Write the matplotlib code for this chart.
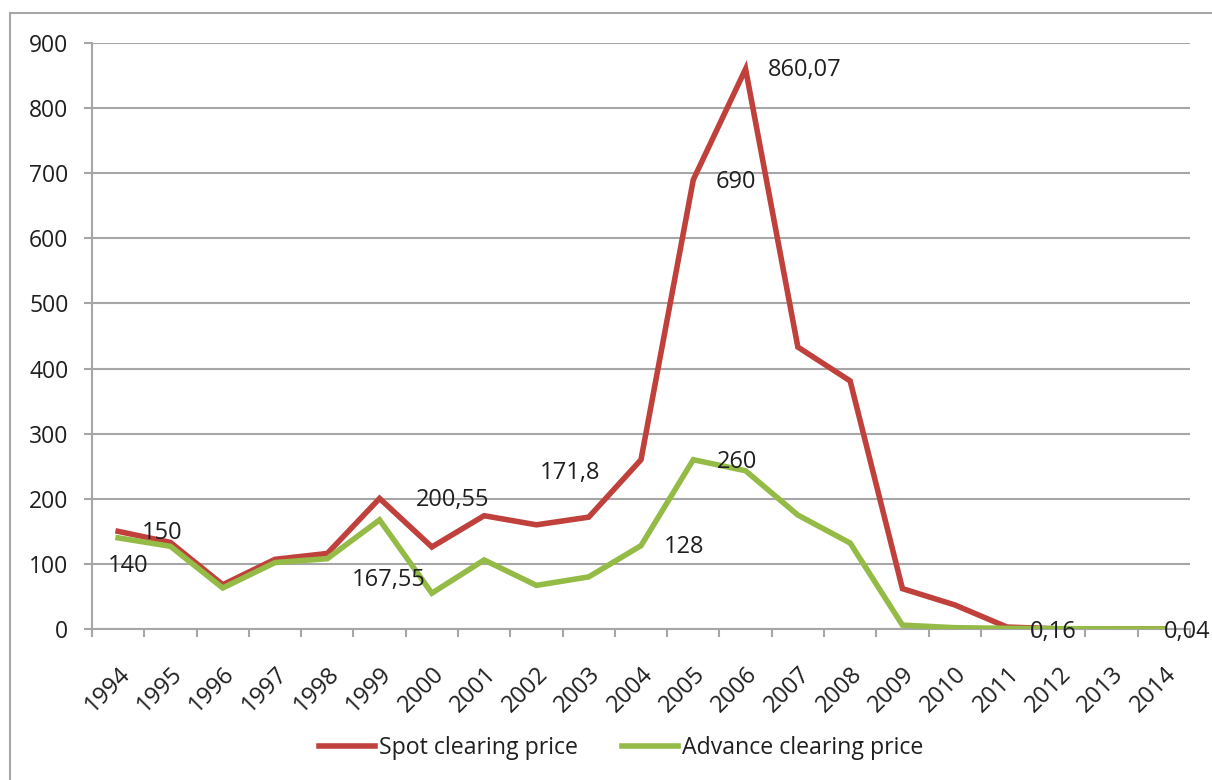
import matplotlib
matplotlib.use("Agg")
import matplotlib.pyplot as plt
from matplotlib.patches import Rectangle
import numpy as np

years = [str(y) for y in range(1994, 2015)]
spot = [150, 133, 68, 107, 116, 200.55, 126, 174, 160, 171.8, 260, 690, 860.07,
        433, 381, 62, 37, 3, 0.16, 0.1, 0.04]
advance = [140, 127, 63, 102, 108, 167.55, 55, 106, 67, 80, 128, 260, 243,
           175, 132, 6, 2, 1, 0.5, 0.2, 0.04]

# annotation texts and their (category index, value) anchor positions
ann_texts = ["150", "140", "167,55", "200,55", "171,8", "128", "260", "690", "860,07", "0,16", "0,04"]
ann_x = [0.84, 0.19, 5.18, 6.4, 8.64, 10.82, 11.84, 11.82, 13.13, 17.88, 20.44]
ann_y = [148, 97, 75, 198, 240, 126, 257, 687, 858, -4, -4]

RED = "#C0403C"
GREEN = "#95BB47"
GRID = "#A6A6A6"
TXT = "#1F1F1F"

plt.rcParams['font.family'] = ['Open Sans', 'DejaVu Sans']

fig = plt.figure(figsize=(12.12, 7.80), dpi=100)
ax = fig.add_axes([92/1212, 1-629/780, (1190-92)/1212, (629-43)/780])

x = np.arange(len(years))
ax.plot(x, spot, color=RED, lw=4.0, solid_joinstyle='miter', label="Spot clearing price", zorder=3)
ax.plot(x, advance, color=GREEN, lw=4.0, solid_joinstyle='miter', label="Advance clearing price", zorder=4)

ax.set_xlim(-0.5, len(years) - 0.5)
ax.set_ylim(0, 900)
ax.set_yticks(np.arange(0, 901, 100))
ax.yaxis.grid(True, color=GRID, lw=1.5)
ax.set_axisbelow(True)

for s in ['top', 'right']:
    ax.spines[s].set_visible(False)
for s in ['left', 'bottom']:
    ax.spines[s].set_color(GRID)
    ax.spines[s].set_linewidth(1.5)

ax.tick_params(axis='y', length=6, width=1.5, color=GRID, pad=11, labelsize=16.5, labelcolor=TXT)
ax.set_xticks(x)
ax.set_xticklabels(years, rotation=45, ha='right', rotation_mode='anchor')
ax.tick_params(axis='x', which='major', length=0, pad=24, labelsize=17, labelcolor=TXT)
ax.set_xticks(np.arange(-0.5, len(years)), minor=True)
ax.tick_params(axis='x', which='minor', length=6, width=1.5, color=GRID)

for t, xx, yy in zip(ann_texts, ann_x, ann_y):
    ax.text(xx, yy, t, ha='center', va='center', fontsize=17, color=TXT, zorder=5, clip_on=False)

leg = fig.legend(loc='center', bbox_to_anchor=(621.5/1212, 1-748/780), ncol=2, frameon=False,
                 fontsize=16.7, handlelength=2.41, handletextpad=0.17, columnspacing=1.9,
                 labelcolor=TXT)

fig.patches.append(Rectangle((10/1212, -0.1), 2.0, 1.1 - 13/780, transform=fig.transFigure,
                             fill=False, edgecolor=GRID, lw=1.5, zorder=0))

fig.savefig("out.png", dpi=100)
